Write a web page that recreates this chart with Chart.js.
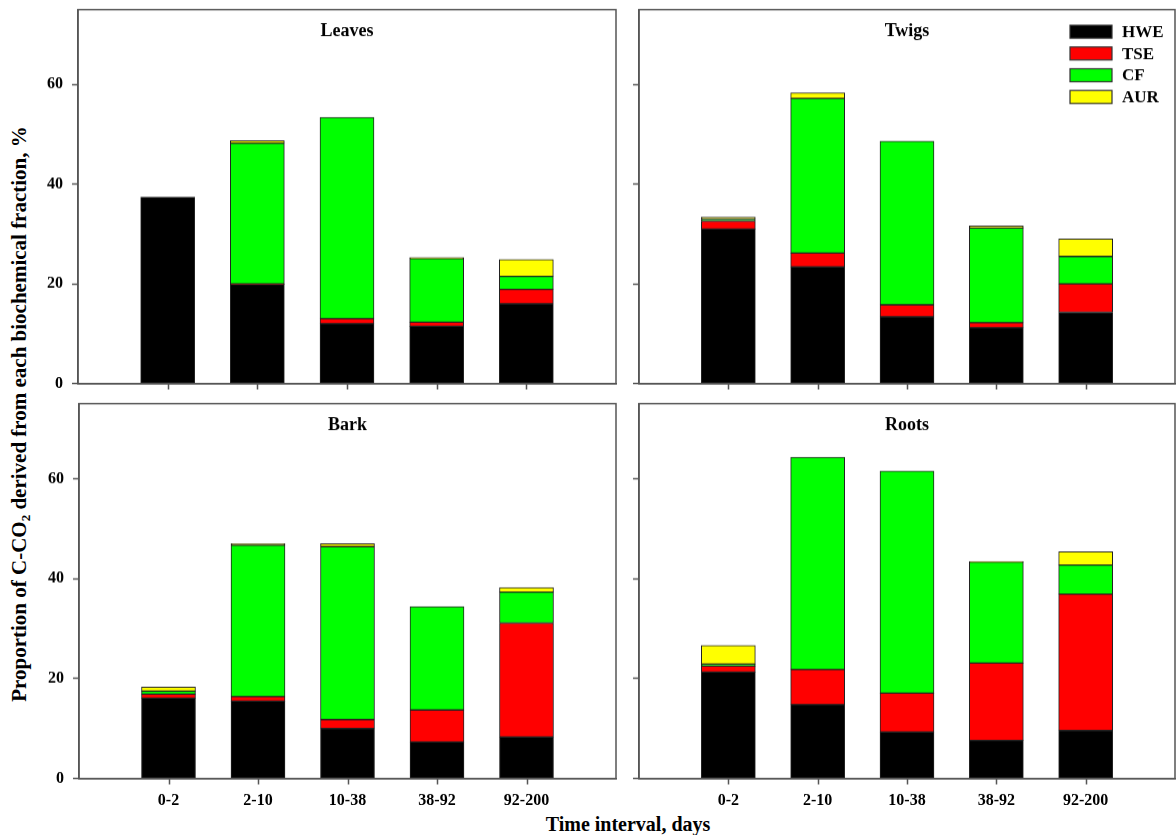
<!DOCTYPE html>
<html><head><meta charset="utf-8">
<script src="https://cdn.jsdelivr.net/npm/chart.js@4.4.1/dist/chart.umd.min.js"></script>
<style>
html,body{margin:0;padding:0;background:#fff;width:1176px;height:835px;overflow:hidden;}
.panel{position:absolute;}
#ytitle{position:absolute;left:19px;top:414px;transform:translate(-50%,-50%) rotate(-90deg);white-space:nowrap;font:bold 21px 'Liberation Serif',serif;color:#000;}
#ytitle sub{font-size:13px;vertical-align:-4px;line-height:0;}
#xtitle{position:absolute;left:628px;top:824px;transform:translate(-50%,-50%);white-space:nowrap;font:bold 20px 'Liberation Serif',serif;color:#000;}
</style></head><body>
<div id="ytitle">Proportion of C-CO<sub>2</sub> derived from each biochemical fraction, %</div>
<div id="xtitle">Time interval, days</div>
<div class="panel" id="p1"><canvas id="c1"></canvas></div>
<div class="panel" id="p2"><canvas id="c2"></canvas></div>
<div class="panel" id="p3"><canvas id="c3"></canvas></div>
<div class="panel" id="p4"><canvas id="c4"></canvas></div>
<script>
// ---- data ----
const categories = ['0-2', '2-10', '10-38', '38-92', '92-200'];
const seriesNames = ['HWE', 'TSE', 'CF', 'AUR'];
const yTicks = [0, 20, 40, 60];
const panelTitles = ['Leaves', 'Twigs', 'Bark', 'Roots'];

const leavesHWE = [37.4, 19.9, 12.0, 11.5, 16.0];
const leavesTSE = [0.0, 0.1, 1.0, 0.8, 2.9];
const leavesCF  = [0.0, 28.2, 40.4, 12.8, 2.6];
const leavesAUR = [0.0, 0.5, 0.0, 0.2, 3.4];

const twigsHWE = [31.0, 23.4, 13.4, 11.2, 14.3];
const twigsTSE = [1.6, 2.8, 2.4, 1.0, 5.7];
const twigsCF  = [0.4, 31.0, 32.8, 19.0, 5.5];
const twigsAUR = [0.4, 1.1, 0.0, 0.4, 3.5];

const barkHWE = [16.1, 15.5, 10.0, 7.3, 8.3];
const barkTSE = [0.8, 0.9, 1.8, 6.4, 22.8];
const barkCF  = [0.6, 30.3, 34.6, 20.7, 6.2];
const barkAUR = [0.8, 0.3, 0.6, 0.0, 0.9];

const rootsHWE = [21.3, 14.8, 9.3, 7.6, 9.6];
const rootsTSE = [1.2, 7.0, 7.8, 15.5, 27.3];
const rootsCF  = [0.4, 42.5, 44.4, 20.2, 5.8];
const rootsAUR = [3.7, 0.0, 0.0, 0.1, 2.7];

// ---- styling ----
const seriesColors = ['#000000', '#ff0000', '#00ff00', '#ffff00'];
const FONT = "'Liberation Serif', 'Times New Roman', serif";
const AXIS = '#555555';
const YW = 78, XH_TOP = 14, XH_BOT = 44, PT = 10, PR = 2;

const panels = [
  {id:'c1', wrap:'p1', title:panelTitles[0], series:[leavesHWE, leavesTSE, leavesCF, leavesAUR], area:{l:78, t:10, r:616, b:383}, xLabels:false, yLabels:true, legend:false},
  {id:'c2', wrap:'p2', title:panelTitles[1], series:[twigsHWE, twigsTSE, twigsCF, twigsAUR], area:{l:639, t:10, r:1175, b:383}, xLabels:false, yLabels:false, legend:true},
  {id:'c3', wrap:'p3', title:panelTitles[2], series:[barkHWE, barkTSE, barkCF, barkAUR], area:{l:79, t:404, r:616, b:778}, xLabels:true, yLabels:true, legend:false},
  {id:'c4', wrap:'p4', title:panelTitles[3], series:[rootsHWE, rootsTSE, rootsCF, rootsAUR], area:{l:639, t:404, r:1175, b:778}, xLabels:true, yLabels:false, legend:false}
];

const framePlugin = {
  id: 'frame',
  afterDraw(chart, args, opts) {
    const a = chart.chartArea, ctx = chart.ctx;
    const xs = chart.scales.x;
    ctx.save();
    ctx.strokeStyle = AXIS; ctx.lineWidth = 1.5;
    ctx.strokeRect(a.left, a.top, a.right - a.left, a.bottom - a.top);
    // x tick marks at category centres
    ctx.beginPath();
    categories.forEach((c, i) => {
      const px = Math.round(xs.getPixelForValue(i + 1)) + 0.5;
      ctx.moveTo(px, a.bottom);
      ctx.lineTo(px, a.bottom + 6);
    });
    ctx.stroke();
    ctx.fillStyle = '#000';
    ctx.font = 'bold 18px ' + FONT;
    ctx.textAlign = 'center'; ctx.textBaseline = 'middle';
    ctx.fillText(opts.title, (a.left + a.right) / 2, a.top + 22);
    if (opts.legend) {
      ctx.font = 'bold 17px ' + FONT;
      ctx.textAlign = 'left';
      chart.data.datasets.forEach((ds, i) => {
        const y = a.top + 22 + i * 21.7;
        const bx = a.right - 105;
        ctx.fillStyle = ds.backgroundColor;
        ctx.fillRect(bx, y - 6.5, 42, 13);
        ctx.strokeStyle = '#333'; ctx.lineWidth = 1.2;
        ctx.strokeRect(bx, y - 6.5, 42, 13);
        ctx.fillStyle = '#000';
        ctx.fillText(ds.label, bx + 52, y + 1);
      });
    }
    ctx.restore();
  }
};

panels.forEach(p => {
  const xh = p.xLabels ? XH_BOT : XH_TOP;
  const wrap = document.getElementById(p.wrap);
  let L = p.area.l - YW, T = p.area.t - PT;
  let W = (p.area.r - p.area.l) + YW + PR;
  let H = (p.area.b - p.area.t) + PT + xh;
  const place = () => {
    wrap.style.left = L + 'px'; wrap.style.top = T + 'px';
    wrap.style.width = W + 'px'; wrap.style.height = H + 'px';
  };
  place();
  const labels = [''].concat(categories, ['']);
  const datasets = p.series.map((vals, i) => ({
    label: seriesNames[i],
    data: [null].concat(vals, [null]),
    backgroundColor: seriesColors[i],
    borderColor: '#222',
    borderWidth: 1,
    borderSkipped: false,
    barThickness: 54
  }));
  const chart = new Chart(document.getElementById(p.id), {
    type: 'bar',
    data: {labels, datasets},
    plugins: [framePlugin],
    options: {
      responsive: true, maintainAspectRatio: false, animation: false,
      layout: {padding: {top: PT, right: PR, left: 0, bottom: 0}},
      plugins: {legend: {display: false}, tooltip: {enabled: false}, frame: {title: p.title, legend: p.legend}},
      scales: {
        x: {
          stacked: true, offset: false,
          grid: {display: true, offset: false, drawOnChartArea: false, drawTicks: true, tickLength: 6, tickColor: 'rgba(0,0,0,0)'},
          border: {display: true, color: AXIS, width: 1.5},
          ticks: {display: true, autoSkip: false, maxRotation: 0, padding: 7, color: '#000',
                  font: {family: FONT, size: 16, weight: 'bold'},
                  callback: (v, i) => p.xLabels ? labels[i] : ''},
          afterFit: s => { s.height = xh; }
        },
        y: {
          stacked: true, min: 0, max: 75,
          afterBuildTicks: s => { s.ticks = yTicks.map(v => ({value: v})); },
          grid: {display: true, drawOnChartArea: false, drawTicks: true, tickLength: 6, tickColor: AXIS, tickWidth: 1.5},
          border: {display: true, color: AXIS, width: 1.5},
          ticks: {padding: 9, color: '#000', font: {family: FONT, size: 16, weight: 'bold'},
                  callback: v => p.yLabels ? String(v) : ''},
          afterFit: s => { s.width = YW; }
        }
      }
    }
  });
  // align the plot area with the target panel box
  for (let k = 0; k < 3; k++) {
    const a = chart.chartArea;
    const dl = p.area.l - (L + a.left), dt = p.area.t - (T + a.top);
    const dw = (p.area.r - p.area.l) - (a.right - a.left);
    const dh = (p.area.b - p.area.t) - (a.bottom - a.top);
    if (Math.abs(dl) + Math.abs(dt) + Math.abs(dw) + Math.abs(dh) < 0.5) break;
    L += dl; T += dt; W += dw; H += dh;
    place();
    chart.resize(W, H);
  }
});
</script>
</body></html>
